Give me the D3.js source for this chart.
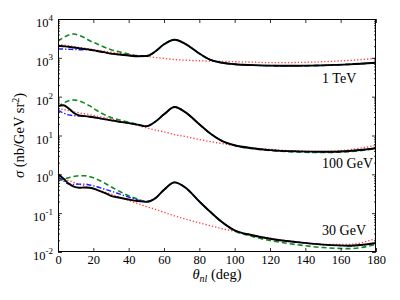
<!DOCTYPE html>
<html>
<head>
<meta charset="utf-8">
<script src="https://cdn.jsdelivr.net/npm/d3@7"></script>
<style>
  html, body { margin: 0; padding: 0; background: #fff; }
  svg { display: block; font-family: "Liberation Serif", "DejaVu Serif", serif; }
</style>
</head>
<body>
<div id="chart"></div>
<script>
// Angular distribution, three beam energies, four model curves each

// shared angle grid (deg)
const theta = [0, 3, 6, 9, 12, 15, 18, 22, 26, 30, 35, 40, 45, 50, 55, 60, 66, 72, 80, 86, 93, 100, 110, 120, 135, 150, 165, 180];

// 1 TeV
const tev1Full   = [2050, 1990, 1930, 1840, 1760, 1690, 1620, 1500, 1400, 1280, 1220, 1150, 1100, 1110, 1450, 2230, 2930, 2300, 1290, 895, 745, 685, 650, 630, 625, 640, 680, 750];
const tev1Born   = [2239, 2138, 2042, 1950, 1862, 1778, 1698, 1585, 1479, 1396, 1303, 1216, 1148, 1084, 1023, 966, 902, 871, 841, 822, 813, 794, 776, 750, 759, 794, 861, 966];
const tev1Dashed = [2700, 3300, 3850, 4100, 3800, 3300, 2750, 2300, 1900, 1620, 1420, 1250, 1120, 1110, 1450, 2230, 2930, 2300, 1290, 895, 745, 685, 650, 630, 625, 640, 680, 750];
const tev1DashDot = [1700, 1680, 1660, 1640, 1620, 1620, 1590, 1500, 1400, 1280, 1220, 1150, 1100, 1110, 1450, 2230, 2930, 2300, 1290, 895, 745, 685, 650, 630, 625, 640, 680, 750];

// 100 GeV
const gev100Full   = [58, 60, 50, 38, 33, 31.5, 30.5, 28.5, 26.5, 24.5, 22.5, 20.8, 19, 17.3, 22.5, 35, 54, 40, 19.5, 11.4, 7.2, 5.6, 4.7, 4.2, 3.9, 3.8, 4.0, 4.7];
const gev100Born   = [50, 46.8, 43.7, 40.7, 38.5, 36.3, 34.3, 31.6, 29.2, 26.9, 23.5, 20.8, 18.3, 15.8, 13.8, 12.4, 10.6, 9.4, 7.9, 7.0, 6.2, 5.5, 4.8, 4.4, 4.0, 3.9, 4.3, 5.6];
const gev100Dashed = [55, 68, 78, 82, 78, 68, 58, 44, 35, 29, 25, 22, 19.5, 17.5, 22.5, 35, 54, 40, 19.5, 11.4, 7.2, 5.5, 4.6, 4.1, 3.75, 3.65, 3.85, 4.6];
const gev100DashDot = [45, 38, 34, 32.5, 31.5, 31.5, 30.5, 28.5, 26.5, 24.5, 22.5, 20.8, 19, 17.3, 22.5, 35, 54, 40, 19.5, 11.4, 7.2, 5.6, 4.7, 4.2, 3.9, 3.8, 4.0, 4.7];

// 30 GeV
const gev30Full   = [1.02, 0.78, 0.58, 0.48, 0.45, 0.46, 0.45, 0.40, 0.34, 0.28, 0.25, 0.225, 0.205, 0.195, 0.24, 0.40, 0.62, 0.46, 0.20, 0.11, 0.058, 0.036, 0.027, 0.022, 0.018, 0.0155, 0.0145, 0.017];
const gev30Born   = [0.871, 0.776, 0.692, 0.617, 0.556, 0.501, 0.452, 0.398, 0.355, 0.309, 0.257, 0.214, 0.178, 0.148, 0.126, 0.105, 0.0851, 0.0708, 0.0562, 0.0479, 0.0398, 0.0339, 0.0275, 0.0229, 0.0182, 0.0158, 0.0158, 0.0224];
const gev30Dashed = [0.69, 0.74, 0.82, 0.88, 0.92, 0.92, 0.87, 0.75, 0.61, 0.48, 0.36, 0.28, 0.23, 0.2, 0.24, 0.40, 0.62, 0.46, 0.20, 0.11, 0.058, 0.035, 0.025, 0.0198, 0.0155, 0.013, 0.0122, 0.0157];
const gev30DashDot = [0.87, 0.68, 0.56, 0.55, 0.56, 0.56, 0.53, 0.48, 0.42, 0.37, 0.31, 0.26, 0.22, 0.2, 0.24, 0.40, 0.62, 0.46, 0.20, 0.11, 0.058, 0.036, 0.027, 0.022, 0.018, 0.0155, 0.0145, 0.017];

const energyLabels = ["1 TeV", "100 GeV", "30 GeV"];
const xTicks = [0, 20, 40, 60, 80, 100, 120, 140, 160, 180];
const yExponents = [-2, -1, 0, 1, 2, 3, 4];

// --- layout
const W = 400, H = 300;
const margin = { top: 19, right: 24, bottom: 48, left: 58 };

const x = d3.scaleLinear().domain([0, 180]).range([margin.left, W - margin.right]);
const y = d3.scaleLog().domain([1e-2, 1e4]).range([H - margin.bottom, margin.top]);

const svg = d3.select("#chart").append("svg")
    .attr("width", W)
    .attr("height", H);

// curve styles (drawn in this order, black on top)
const styles = {
    born:    { stroke: "#ff3a3a", width: 1.3, dash: "1.3,2" },
    dashed:  { stroke: "#11881a", width: 1.6, dash: "5,3" },
    dashdot: { stroke: "#1a1aff", width: 1.4, dash: "5,2,1.3,2" },
    full:    { stroke: "#000000", width: 1.9, dash: null }
};

const groups = [
    { born: tev1Born, dashed: tev1Dashed, dashdot: tev1DashDot, full: tev1Full },
    { born: gev100Born, dashed: gev100Dashed, dashdot: gev100DashDot, full: gev100Full },
    { born: gev30Born, dashed: gev30Dashed, dashdot: gev30DashDot, full: gev30Full }
];

const line = d3.line()
    .x((d, i) => x(theta[i]))
    .y(d => y(d))
    .curve(d3.curveMonotoneX);

svg.append("clipPath").attr("id", "plotclip")
    .append("rect")
    .attr("x", margin.left).attr("y", margin.top)
    .attr("width", W - margin.left - margin.right)
    .attr("height", H - margin.top - margin.bottom);

const plot = svg.append("g").attr("clip-path", "url(#plotclip)");

["born", "dashed", "dashdot", "full"].forEach(key => {
    const s = styles[key];
    groups.forEach(g => {
        plot.append("path")
            .datum(g[key])
            .attr("d", line)
            .attr("fill", "none")
            .attr("stroke", s.stroke)
            .attr("stroke-width", s.width)
            .attr("stroke-dasharray", s.dash)
            .attr("stroke-linejoin", "round");
    });
});

// --- axes (ticks point inward)
const majorY = yExponents.map(e => Math.pow(10, e));
const minorY = y.ticks().filter(v => !majorY.some(m => Math.abs(m - v) / m < 1e-6));

function styleAxis(g) {
    g.select(".domain").remove();
    g.selectAll(".tick line").attr("stroke", "#000").attr("stroke-width", 0.8);
}

// bottom
svg.append("g")
    .attr("transform", `translate(0,${H - margin.bottom})`)
    .call(d3.axisBottom(x).tickValues(xTicks).tickSize(-4).tickSizeOuter(0).tickPadding(3))
    .call(styleAxis)
    .selectAll("text")
    .attr("font-size", "12.5px")
    .attr("font-family", "Liberation Serif")
    .attr("fill", "#000");

// top
svg.append("g")
    .attr("transform", `translate(0,${margin.top})`)
    .call(d3.axisTop(x).tickValues(xTicks).tickSize(-4).tickSizeOuter(0).tickFormat(""))
    .call(styleAxis);

// left major with 10^n labels
const leftAxis = svg.append("g")
    .attr("transform", `translate(${margin.left},0)`)
    .call(d3.axisLeft(y).tickValues(majorY).tickSize(-4).tickSizeOuter(0).tickPadding(5).tickFormat(""))
    .call(styleAxis);

leftAxis.selectAll(".tick text").each(function (d) {
    const t = d3.select(this)
        .attr("font-size", "12.5px")
        .attr("font-family", "Liberation Serif")
        .attr("fill", "#000")
        .attr("dy", "0.6em");
    t.text(null);
    t.append("tspan").text("10");
    t.append("tspan")
        .attr("font-size", "9px")
        .attr("dy", "-0.65em")
        .text(String(Math.round(Math.log10(d))));
});

svg.append("g")
    .attr("transform", `translate(${margin.left},0)`)
    .call(d3.axisLeft(y).tickValues(minorY).tickSize(-2).tickSizeOuter(0).tickFormat(""))
    .call(styleAxis);

// right
svg.append("g")
    .attr("transform", `translate(${W - margin.right},0)`)
    .call(d3.axisRight(y).tickValues(majorY).tickSize(-4).tickSizeOuter(0).tickFormat(""))
    .call(styleAxis);
svg.append("g")
    .attr("transform", `translate(${W - margin.right},0)`)
    .call(d3.axisRight(y).tickValues(minorY).tickSize(-2).tickSizeOuter(0).tickFormat(""))
    .call(styleAxis);

// frame
svg.append("rect")
    .attr("x", margin.left + 0.5).attr("y", margin.top + 0.5)
    .attr("width", W - margin.left - margin.right - 1)
    .attr("height", H - margin.top - margin.bottom - 1)
    .attr("fill", "none")
    .attr("stroke", "#000")
    .attr("stroke-width", 1);

// energy annotations (anchored in data space)
const labelAnchors = [225, 1.46, 0.0274];
energyLabels.forEach((lab, i) => {
    svg.append("text")
        .attr("x", x(149.5))
        .attr("y", y(labelAnchors[i]))
        .attr("font-size", "14px")
        .attr("fill", "#000")
        .text(lab);
});

// x title
const xt = svg.append("text")
    .attr("x", (margin.left + W - margin.right) / 2)
    .attr("y", 279)
    .attr("text-anchor", "middle")
    .attr("font-size", "14.5px")
    .attr("fill", "#000");
xt.append("tspan").attr("font-style", "italic").text("θ");
xt.append("tspan").attr("font-style", "italic").attr("font-size", "10px").attr("dy", "3").text("nl");
xt.append("tspan").attr("dy", "-3").text(" (deg)");

// y title
const yt = svg.append("text")
    .attr("transform", `translate(24,${(margin.top + H - margin.bottom) / 2}) rotate(-90)`)
    .attr("text-anchor", "middle")
    .attr("font-size", "14.5px")
    .attr("fill", "#000");
yt.append("tspan").attr("font-style", "italic").text("σ");
yt.append("tspan").text(" (nb/GeV sr");
yt.append("tspan").attr("font-size", "10px").attr("dy", "-5").text("2");
yt.append("tspan").attr("dy", "5").text(")");
</script>
</body>
</html>
